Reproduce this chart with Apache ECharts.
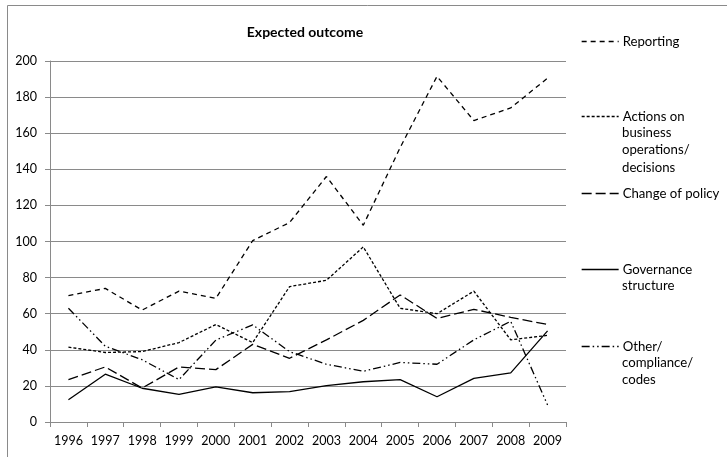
<!DOCTYPE html>
<html>
<head>
<meta charset="utf-8">
<script src="https://cdn.jsdelivr.net/npm/echarts@6/dist/echarts.min.js"></script>
<style>
  html, body { margin: 0; padding: 0; background: #ffffff; }
  #chart { width: 727px; height: 457px; }
</style>
</head>
<body>
<div id="chart"></div>
<script>
// Categories (years) and y-axis ticks
const years = ['1996', '1997', '1998', '1999', '2000', '2001', '2002', '2003', '2004', '2005', '2006', '2007', '2008', '2009'];
const yTicks = [0, 20, 40, 60, 80, 100, 120, 140, 160, 180, 200];

// Series names (legend labels, wrapped as drawn)
const seriesNames = [
  'Reporting',
  'Actions on business operations/ decisions',
  'Change of policy',
  'Governance structure',
  'Other/ compliance/ codes'
];
const legendLines = [
  ['Reporting'],
  ['Actions on', 'business', 'operations/', 'decisions'],
  ['Change of policy'],
  ['Governance', 'structure'],
  ['Other/', 'compliance/', 'codes']
];

// Counts per year
const reporting  = [70, 74, 62, 72.5, 68.5, 100.5, 110.5, 136, 109, 152, 191.5, 167, 174, 190.5];
const actions    = [41.5, 38.5, 39, 44, 54, 44, 75, 78.5, 97, 63, 60, 72.5, 45.5, 48];
const policy     = [23.5, 30.5, 18.8, 30.5, 29, 43, 35.3, 45.5, 56.3, 70.4, 57.4, 62.4, 58, 54];
const governance = [12.3, 26.5, 18.7, 15.3, 19.5, 16.2, 16.8, 20.2, 22.3, 23.5, 14, 24.2, 27.2, 50.5];
const other      = [63, 42, 34.5, 23.5, 45.4, 53.8, 39, 32, 28.1, 33, 32, 45.5, 55.8, 9.4];

const seriesData = [reporting, actions, policy, governance, other];
const dashes = [[5, 4], [3, 2], [10, 4], 'solid', [8, 3, 1.5, 3, 1.5, 3]];
const legendTop = [42, 117, 194, 270, 347];

const FONT = 'Lato, "Open Sans", sans-serif';
const GRAY = '#8a8a8a';

const series = seriesData.map((d, i) => ({
  name: seriesNames[i],
  type: 'line',
  data: d,
  symbol: 'none',
  showSymbol: false,
  animation: false,
  lineStyle: { color: '#000', width: 1.3, type: dashes[i] },
  itemStyle: { color: '#000' }
}));

const legends = seriesNames.map((n, i) => ({
  data: [n],
  orient: 'vertical',
  left: 581,
  top: legendTop[i] - 7,
  padding: 0,
  itemWidth: 37,
  itemHeight: 14,
  itemGap: 0,
  selectedMode: false,
  itemStyle: { opacity: 0 },
  lineStyle: { width: 1.3 },
  textStyle: { fontFamily: FONT, fontSize: 13.2, color: '#000', padding: [0, 0, 0, -1] },
  formatter: () => legendLines[i][0]
}));

// Continuation lines of wrapped legend labels
const extraText = [];
legendLines.forEach((lines, i) => {
  lines.slice(1).forEach((t, k) => {
    extraText.push({
      type: 'text',
      left: 622,
      top: legendTop[i] + 17.3 * (k + 1) - 8,
      style: { text: t, fontFamily: FONT, fontSize: 13.2, fill: '#000' }
    });
  });
});

const chart = echarts.init(document.getElementById('chart'), null, { renderer: 'canvas' });
chart.setOption({
  animation: false,
  backgroundColor: '#fff',
  title: {
    text: 'Expected outcome',
    left: 300,
    top: 20,
    textAlign: 'center',
    textStyle: { fontFamily: FONT, fontSize: 14, fontWeight: 'bold', color: '#000' }
  },
  legend: legends,
  grid: { left: 50, right: 161, top: 61, bottom: 35 },
  xAxis: {
    type: 'category',
    data: years,
    boundaryGap: true,
    axisLine: { lineStyle: { color: GRAY, width: 1 } },
    axisTick: { show: true, length: 5, lineStyle: { color: GRAY } },
    axisLabel: { fontFamily: FONT, fontSize: 12.5, color: '#000', margin: 12, interval: 0 }
  },
  yAxis: {
    type: 'value',
    min: yTicks[0],
    max: yTicks[yTicks.length - 1],
    interval: yTicks[1] - yTicks[0],
    axisLine: { show: true, lineStyle: { color: GRAY, width: 1 } },
    axisTick: { show: true, length: 5, lineStyle: { color: GRAY } },
    axisLabel: { fontFamily: FONT, fontSize: 12.5, color: '#000', margin: 13 },
    splitLine: { lineStyle: { color: GRAY, width: 1 } }
  },
  graphic: [
    {
      type: 'rect',
      left: 5, top: 3,
      shape: { width: 740, height: 470 },
      style: { fill: 'none', stroke: GRAY, lineWidth: 1 },
      silent: true
    }
  ].concat(extraText),
  series: series
});
</script>
</body>
</html>
